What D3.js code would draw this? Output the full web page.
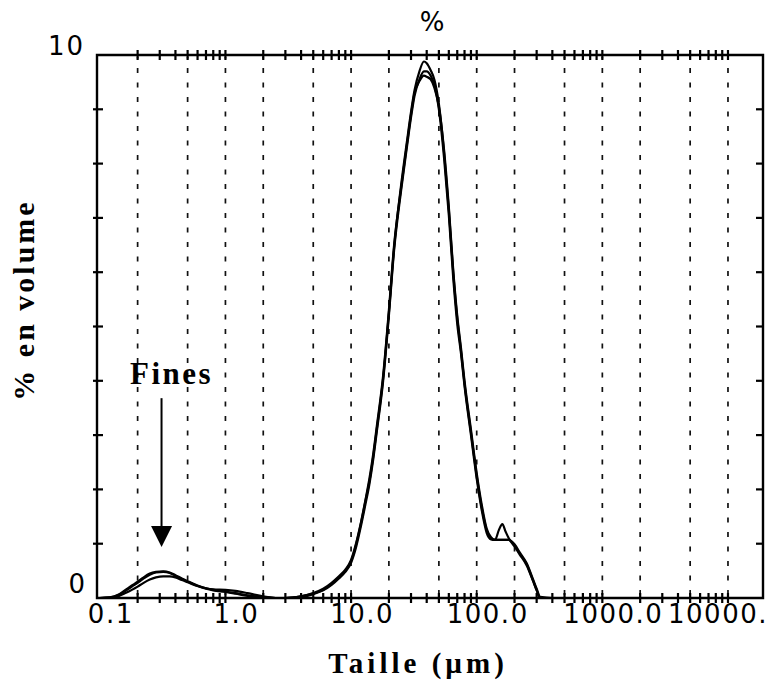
<!DOCTYPE html>
<html>
<head>
<meta charset="utf-8">
<script src="https://cdn.jsdelivr.net/npm/d3@7"></script>
<style>
  html, body { margin: 0; padding: 0; background: #fff; }
  svg { display: block; }
</style>
</head>
<body>
<svg id="chart" width="769" height="686"></svg>
<script>
// ---- data ----
const sizes = [0.1, 0.12, 0.14, 0.16, 0.18, 0.2, 0.22, 0.25, 0.28, 0.32, 0.36, 0.4, 0.45, 0.5, 0.6,
  0.7, 0.8, 1.0, 1.2, 1.5, 2.0, 2.5, 3, 4, 5, 6, 7, 8, 9, 10, 11, 12, 13, 14, 15, 16, 18, 20, 22, 25,
  28, 30, 32, 35, 38, 40, 43, 46, 50, 55, 60, 65, 70, 75, 80, 90, 100, 110, 120, 130, 140, 150, 160,
  170, 180, 200, 220, 250, 280, 300, 320, 400, 850];

const run1 = [0, 0.01, 0.06, 0.15, 0.23, 0.30, 0.37, 0.45, 0.48, 0.49, 0.47, 0.42, 0.36, 0.31, 0.23,
  0.18, 0.15, 0.12, 0.09, 0.05, 0.02, 0, 0, 0.03, 0.08,
  0.15, 0.26, 0.38, 0.50, 0.68, 1.0, 1.38, 1.78, 2.15, 2.6, 3.1, 4.05, 5.25, 6.45, 7.6,
  8.45, 8.95, 9.35, 9.7, 9.88, 9.85, 9.72, 9.55, 9.1, 8.2, 7.15, 6.0, 5.15, 4.55, 3.95,
  3.05, 2.25, 1.65, 1.25, 1.1, 1.07, 1.07, 1.07, 1.07, 1.07, 0.97, 0.82, 0.62, 0.33, 0.15, 0, 0, 0];

const run2 = [0, 0.01, 0.05, 0.13, 0.21, 0.28, 0.35, 0.43, 0.47, 0.48, 0.46, 0.41, 0.35, 0.30, 0.22,
  0.17, 0.14, 0.11, 0.08, 0.04, 0.01, 0, 0, 0.02, 0.07,
  0.14, 0.24, 0.36, 0.48, 0.65, 0.95, 1.33, 1.72, 2.1, 2.55, 3.05, 4.0, 5.2, 6.4, 7.5,
  8.35, 8.85, 9.25, 9.55, 9.7, 9.7, 9.62, 9.45, 9.0, 8.1, 7.05, 5.9, 5.05, 4.5, 3.9,
  3.0, 2.2, 1.6, 1.2, 1.08, 1.07, 1.25, 1.36, 1.22, 1.1, 0.95, 0.8, 0.6, 0.32, 0.14, 0, 0, 0];

const run3 = [0, 0, 0.03, 0.09, 0.15, 0.21, 0.27, 0.34, 0.38, 0.40, 0.40, 0.38, 0.33, 0.29, 0.22,
  0.18, 0.16, 0.15, 0.13, 0.09, 0.03, 0, 0, 0.03, 0.09,
  0.17, 0.28, 0.40, 0.52, 0.70, 1.02, 1.4, 1.8, 2.2, 2.65, 3.15, 4.1, 5.3, 6.5, 7.55,
  8.4, 8.9, 9.3, 9.52, 9.62, 9.6, 9.55, 9.4, 9.05, 8.25, 7.2, 6.05, 5.2, 4.6, 4.0,
  3.1, 2.3, 1.7, 1.28, 1.12, 1.07, 1.07, 1.07, 1.07, 1.07, 0.99, 0.84, 0.64, 0.35, 0.17, 0.02, 0, 0];

const gridSizes = [0.2, 0.5, 1, 2, 5, 10, 20, 50, 100, 200, 500, 1000, 2000, 5000, 10000];
const xTickLabels = [[0.1, "0.1"], [1, "1.0"], [10, "10.0"], [100, "100.0"], [1000, "1000.0"], [10000, "10000."]];
const yTickValues = [0, 1, 2, 3, 4, 5, 6, 7, 8, 9, 10];
const yTickLabels = [[0, "0"], [10, "10"]];
const finesArrow = { size: 0.31, from: 3.68, to: 0.94, label: "Fines", labelY: 3.94 };

// ---- layout ----
const L = 97, T = 55, R = 763, B = 598;
const svg = d3.select("#chart");
svg.append("rect").attr("width", 769).attr("height", 686).attr("fill", "#fff");

const x = d3.scaleLog().domain([0.095, 19000]).range([L, R]);
const y = d3.scaleLinear().domain([0, 10]).range([B, T]);

// dashed gridlines
svg.append("g").selectAll("line").data(gridSizes).join("line")
  .attr("x1", d => x(d)).attr("x2", d => x(d))
  .attr("y1", T + 2).attr("y2", B - 2)
  .attr("stroke", "#111").attr("stroke-width", 1.7)
  .attr("stroke-dasharray", "5,9.5").attr("stroke-dashoffset", -11);

// minor ticks for log axis
const logTicks = [];
for (let d = -1; d <= 3; d++) for (let k = 2; k <= 10; k++) logTicks.push(k * Math.pow(10, d));

const axisG = svg.append("g").attr("fill", "none");
// frame
axisG.append("path")
  .attr("d", `M${L},${T} H${R} V${B} H${L} Z`)
  .attr("stroke", "#000")
  .attr("stroke-width", 2.4);

function tickLines(cls, data, x1, x2, y1, y2) {
  axisG.append("g").attr("class", cls).selectAll("line").data(data).join("line")
    .attr("x1", x1).attr("x2", x2).attr("y1", y1).attr("y2", y2)
    .attr("stroke", "#000").attr("stroke-width", 2.2);
}
tickLines("tt", logTicks, d => x(d), d => x(d), T - 5, T + 5);
tickLines("bt", logTicks, d => x(d), d => x(d), B - 5, B + 5);
tickLines("lt", yTickValues.slice(1, -1), L - 4, L + 6, d => y(d), d => y(d));
tickLines("rt", yTickValues.slice(1, -1), R - 7, R, d => y(d), d => y(d));

// curves
const line = d3.line()
  .x((d, i) => x(sizes[i]))
  .y(d => y(d))
  .curve(d3.curveMonotoneX);

[run1, run2, run3].forEach(s => {
  svg.append("path").attr("d", line(s))
    .attr("fill", "none").attr("stroke", "#000")
    .attr("stroke-width", 2.2).attr("stroke-linejoin", "round");
});

// x tick labels
const xl = svg.append("g").attr("font-family", "'DejaVu Sans', sans-serif")
  .attr("font-size", 26).attr("letter-spacing", 1.5).attr("fill", "#000");
xl.selectAll("text").data(xTickLabels).join("text")
  .attr("x", d => x(d[0]) + 11)
  .attr("y", 623)
  .attr("text-anchor", "middle")
  .text(d => d[1])
  .each(function () {
    const w = this.getComputedTextLength();
    const cx = +this.getAttribute("x");
    if (cx + w / 2 > 768) this.setAttribute("x", 768 - w / 2);
  });

// y tick labels
svg.append("g").selectAll("text").data(yTickLabels).join("text")
  .attr("x", d => d[0] === 10 ? L - 12 : L - 10)
  .attr("y", d => d[0] === 10 ? y(d[0]) : y(d[0]) - 5)
  .attr("text-anchor", "end")
  .attr("font-family", "'DejaVu Sans', sans-serif")
  .attr("font-size", 26).attr("letter-spacing", 2)
  .text(d => d[1]);

// top "%" label
svg.append("text").attr("x", 432).attr("y", 31)
  .attr("text-anchor", "middle")
  .attr("font-family", "'DejaVu Sans', sans-serif").attr("font-size", 26)
  .text("%");

// axis titles
svg.append("text")
  .attr("transform", "translate(34,300) rotate(-90)")
  .attr("text-anchor", "middle")
  .attr("font-family", "'Liberation Serif', 'Times New Roman', serif")
  .attr("font-weight", "bold").attr("font-size", 30).attr("letter-spacing", 3)
  .text("% en volume");

svg.append("text")
  .attr("x", 418).attr("y", 673)
  .attr("text-anchor", "middle")
  .attr("font-family", "'Liberation Serif', 'Times New Roman', serif")
  .attr("font-weight", "bold").attr("font-size", 29).attr("letter-spacing", 4)
  .text("Taille (µm)");

// Fines annotation
const ax = x(finesArrow.size);
svg.append("text")
  .attr("x", ax + 10).attr("y", y(finesArrow.labelY))
  .attr("text-anchor", "middle")
  .attr("font-family", "'Liberation Serif', 'Times New Roman', serif")
  .attr("font-weight", "bold").attr("font-size", 31).attr("letter-spacing", 2.5)
  .text(finesArrow.label);
svg.append("line")
  .attr("x1", ax).attr("x2", ax)
  .attr("y1", y(finesArrow.from)).attr("y2", y(finesArrow.to) - 18)
  .attr("stroke", "#000").attr("stroke-width", 2);
svg.append("path")
  .attr("d", `M${ax - 10.5},${y(finesArrow.to) - 21} L${ax + 10.5},${y(finesArrow.to) - 21} L${ax},${y(finesArrow.to)} Z`)
  .attr("fill", "#000");
</script>
</body>
</html>
